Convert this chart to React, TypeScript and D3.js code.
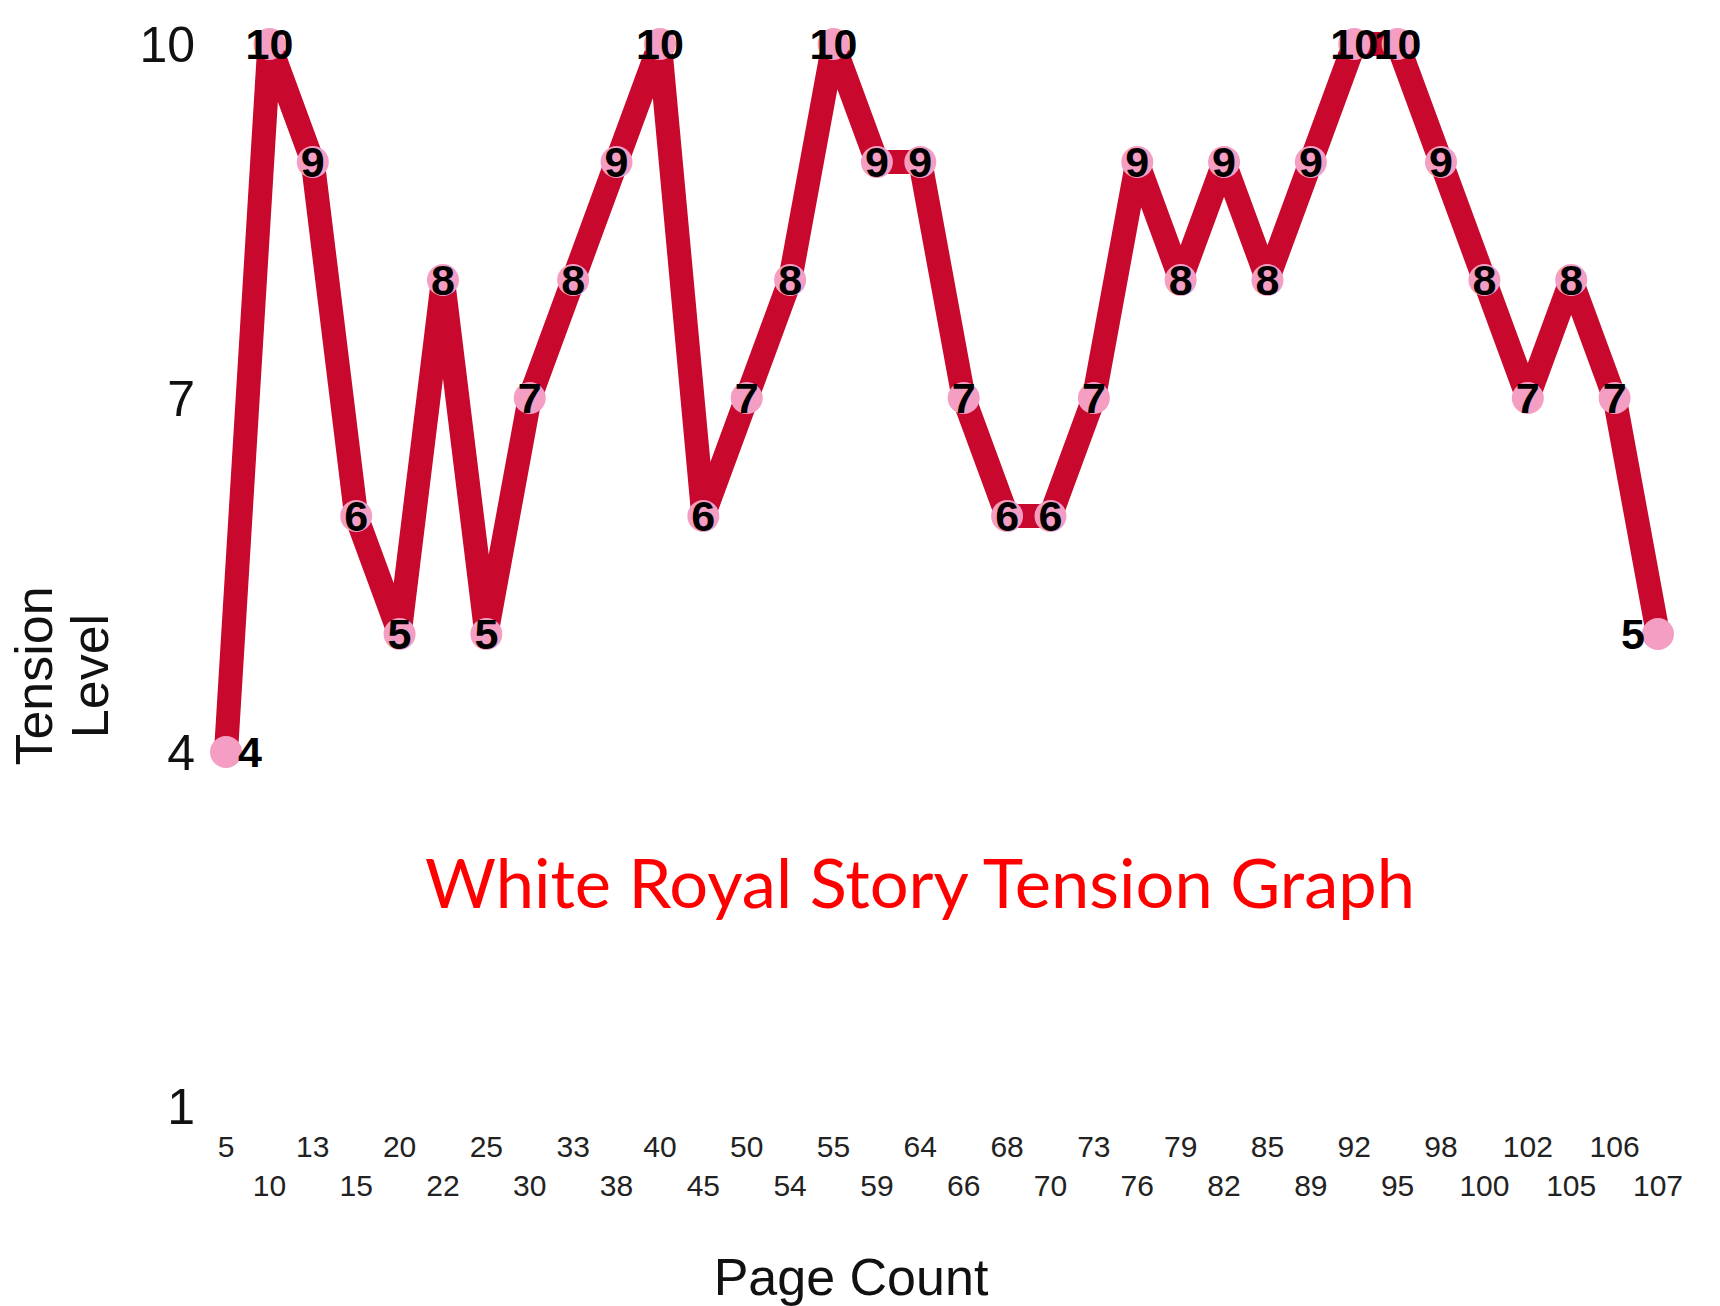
import React, { useEffect, useRef } from 'react';
import * as d3 from 'd3';

// page numbers along the x axis (evenly spaced categories)
const pages: number[] = [
  5, 10, 13, 15, 20, 22, 25, 30, 33, 38, 40, 45, 50, 54, 55, 59, 64,
  66, 68, 70, 73, 76, 79, 82, 85, 89, 92, 95, 98, 100, 102, 105, 106, 107,
];

// tension level at each page
const tension: number[] = [
  4, 10, 9, 6, 5, 8, 5, 7, 8, 9, 10, 6, 7, 8, 10, 9, 9,
  7, 6, 6, 7, 9, 8, 9, 8, 9, 10, 10, 9, 8, 7, 8, 7, 5,
];

const yTicks: number[] = [1, 4, 7, 10];

const chartTitle = 'White Royal Story Tension Graph';
const xTitle = 'Page Count';
const yTitleLines: string[] = ['Tension', 'Level'];

const App: React.FC = () => {
  const svgRef = useRef<SVGSVGElement>(null);

  useEffect(() => {
    document.body.style.margin = '0';
    if (!svgRef.current) return;
    const svg = d3.select(svgRef.current);
    const width = 1720;
    const height = 1306;
    svg.attr('width', width).attr('height', height);
    svg.selectAll('*').remove();

    svg.append('rect').attr('width', width).attr('height', height).attr('fill', '#fff');

    const labels = pages.map(String);

    const x = d3.scalePoint<string>().domain(labels).range([226, 1658]);
    const y = d3.scaleLinear().domain([1, 10]).range([1106, 44]);

    const font = "'Liberation Sans', Arial, Helvetica, sans-serif";

    // y tick labels
    svg
      .append('g')
      .selectAll('text')
      .data(yTicks)
      .enter()
      .append('text')
      .attr('x', 195)
      .attr('y', d => y(d))
      .attr('dy', '0.36em')
      .attr('text-anchor', 'end')
      .style('font-family', font)
      .style('font-size', '50px')
      .style('fill', '#111')
      .text(d => d);

    // x tick labels, staggered in two rows
    svg
      .append('g')
      .selectAll('text')
      .data(labels)
      .enter()
      .append('text')
      .attr('x', d => x(d) as number)
      .attr('y', (d, i) => (i % 2 === 0 ? 1146 : 1185))
      .attr('dy', '0.36em')
      .attr('text-anchor', 'middle')
      .style('font-family', font)
      .style('font-size', '30px')
      .style('fill', '#222')
      .text(d => d);

    // axis titles
    svg
      .append('text')
      .attr('x', 851)
      .attr('y', 1276)
      .attr('dy', '0.36em')
      .attr('text-anchor', 'middle')
      .style('font-family', font)
      .style('font-size', '52px')
      .style('fill', '#111')
      .text(xTitle);

    const yTitle = svg
      .append('text')
      .attr('transform', 'translate(52,676) rotate(-90)')
      .attr('text-anchor', 'middle')
      .style('font-family', font)
      .style('font-size', '52px')
      .style('fill', '#111');
    yTitleLines.forEach((line, i) => {
      yTitle
        .append('tspan')
        .attr('x', 0)
        .attr('y', i * 56)
        .text(line);
    });

    // chart title
    svg
      .append('text')
      .attr('x', 920)
      .attr('y', 908)
      .attr('text-anchor', 'middle')
      .attr('textLength', 990)
      .attr('lengthAdjust', 'spacingAndGlyphs')
      .style('font-family', "'Century Gothic', 'URW Gothic', Lato, 'DejaVu Sans', sans-serif")
      .style('font-size', '68px')
      .style('fill', '#ff0000')
      .text(chartTitle);

    const pts = pages.map((p, i) => ({ page: String(p), value: tension[i], i }));

    // thick tension line
    const line = d3
      .line<{ page: string; value: number }>()
      .x(d => x(d.page) as number)
      .y(d => y(d.value));

    svg
      .append('path')
      .datum(pts)
      .attr('d', line)
      .attr('fill', 'none')
      .attr('stroke', '#c8082c')
      .attr('stroke-width', 24)
      .attr('stroke-linejoin', 'miter')
      .attr('stroke-miterlimit', 2);

    // pink markers
    svg
      .append('g')
      .selectAll('circle')
      .data(pts)
      .enter()
      .append('circle')
      .attr('cx', d => x(d.page) as number)
      .attr('cy', d => y(d.value))
      .attr('r', 16)
      .attr('fill', '#f49ec4');

    // value labels
    const last = pts.length - 1;
    svg
      .append('g')
      .selectAll('text')
      .data(pts)
      .enter()
      .append('text')
      .attr('x', d => {
        const cx = x(d.page) as number;
        if (d.i === 0) return cx + 12;
        if (d.i === last) return cx - 13;
        return cx;
      })
      .attr('y', d => y(d.value))
      .attr('dy', '0.36em')
      .attr('text-anchor', d => (d.i === 0 ? 'start' : d.i === last ? 'end' : 'middle'))
      .style('font-family', font)
      .style('font-weight', 'bold')
      .style('font-size', '43px')
      .style('fill', '#000')
      .text(d => d.value);
  }, []);

  return <svg ref={svgRef} style={{ display: 'block' }}></svg>;
};

export default App;
